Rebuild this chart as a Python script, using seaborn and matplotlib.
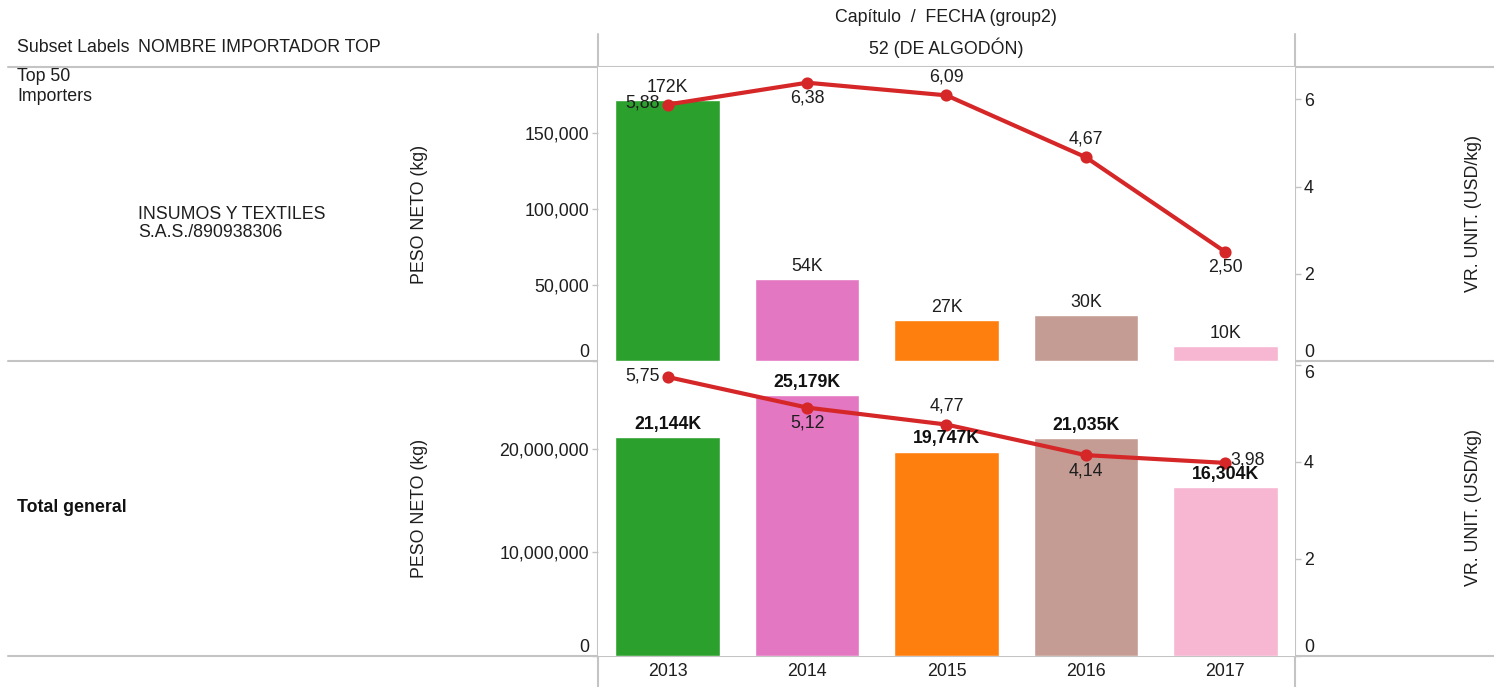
import matplotlib
matplotlib.use("Agg")
import matplotlib.pyplot as plt
from matplotlib.lines import Line2D
import seaborn as sns

# --- Datos ---
anios = ["2013", "2014", "2015", "2016", "2017"]
colores_anio = ["#2ca02c", "#e377c2", "#ff7f0e", "#c49c94", "#f7b6d2"]

# Fila 1: INSUMOS Y TEXTILES S.A.S./890938306
peso_top = [172000, 54000, 27000, 30000, 10000]
vr_unit_top = [5.88, 6.38, 6.09, 4.67, 2.50]

# Fila 2: Total general
peso_total = [21144000, 25179000, 19747000, 21035000, 16304000]
vr_unit_total = [5.75, 5.12, 4.77, 4.14, 3.98]

# posición de las etiquetas de la línea (como las pone Tableau)
pos_top = ["left", "below", "above", "above", "below"]
pos_total = ["left", "below", "above", "below", "right"]

sns.set_style("white")
plt.rcParams["font.family"] = ["Liberation Sans", "DejaVu Sans"]
FS = 12.8
TXT = "#1e1e1e"
GRIS = "#c4c4c4"
ROJO = "#d62728"

W, H = 1494, 687
fig = plt.figure(figsize=(W / 100, H / 100), dpi=100)


def fx(px):
    return px / W


def fy(py):
    return 1 - py / H


def hline(y, x0=8, x1=W):
    fig.add_artist(Line2D([fx(x0), fx(x1)], [fy(y), fy(y)], color=GRIS, lw=1.5,
                          transform=fig.transFigure, zorder=0))


def vline(x, y0=34, y1=H):
    fig.add_artist(Line2D([fx(x), fx(x)], [fy(y0), fy(y1)], color=GRIS, lw=1.5,
                          transform=fig.transFigure, zorder=0))


def etiqueta_linea(ax2, i, v, pos):
    txt = f"{v:.2f}".replace(".", ",")
    off = {"left": (-6, 1, "right", "center"),
           "right": (4, 2, "left", "center"),
           "above": (0, 7, "center", "bottom"),
           "below": (0, -5, "center", "top")}[pos]
    ax2.annotate(txt, (i, v), xytext=(off[0], off[1]), textcoords="offset points",
                 ha=off[2], va=off[3], fontsize=FS, color=TXT, zorder=10)


def panel(y0, y1, peso, vr, pos, ymax, ticks, vmax, negrita, ultimo):
    ax = fig.add_axes([fx(598), fy(y1), fx(1295) - fx(598), (y1 - y0) / H])
    sns.barplot(x=anios, y=peso, hue=anios, palette=colores_anio, width=0.75,
                saturation=1, legend=False, ax=ax)
    ax.set_ylim(0, ymax)
    ax.set_yticks(ticks, labels=[f"{t:,.0f}" for t in ticks])
    ax.set_ylabel("")

    ax2 = ax.twinx()
    sns.pointplot(x=anios, y=vr, color=ROJO, ax=ax2, markersize=6.5, linewidth=3)
    ax2.set_ylim(0, vmax)
    ax2.set_yticks([0, 2, 4, 6], labels=["0", "2", "4", "6"])
    ax2.set_ylabel("")
    ax.set_xlim(-0.5, 4.5)
    ax2.set_xlim(-0.5, 4.5)

    for a in (ax, ax2):
        for s in a.spines.values():
            s.set_visible(False)
    ax.tick_params(axis="y", length=4.5, width=1, color=GRIS, pad=2,
                   labelsize=FS, labelcolor=TXT)
    ax2.tick_params(axis="y", length=4, width=1, color=GRIS, pad=2.5,
                    labelsize=FS, labelcolor=TXT)
    ax2.tick_params(axis="x", length=0, labelbottom=False)
    ax.get_yticklabels()[0].set_va("bottom")
    ax2.get_yticklabels()[0].set_va("bottom")
    if vmax < 6.3:
        ax2.get_yticklabels()[-1].set_va("top")

    if ultimo:
        ax.tick_params(axis="x", which="major", length=0, pad=5,
                       labelsize=FS, labelcolor=TXT)
        ax.set_xticks([0.5, 1.5, 2.5, 3.5], minor=True)
        ax.tick_params(axis="x", which="minor", length=5, width=1, color=GRIS)
    else:
        ax.tick_params(axis="x", length=0, labelbottom=False)

    # etiquetas de las barras
    for i, v in enumerate(peso):
        txt = f"{v / 1000:,.0f}K"
        ax2.annotate(txt, (i, v), xycoords=ax.transData, xytext=(0, 3),
                     textcoords="offset points", ha="center", va="bottom",
                     fontsize=FS, color="#111111" if negrita else TXT,
                     fontweight="bold" if negrita else "normal", zorder=9)
    for i, v in enumerate(vr):
        etiqueta_linea(ax2, i, v, pos[i])
    return ax, ax2


panel(67, 361, peso_top, vr_unit_top, pos_top, 193500,
      [0, 50000, 100000, 150000], 6.74, False, False)
panel(361, 656, peso_total, vr_unit_total, pos_total, 28500000,
      [0, 10000000, 20000000], 6.08, True, True)

# --- Rejilla tipo Tableau ---
hline(67)
hline(361)
hline(656)
vline(598)
vline(1295)

# --- Encabezados y etiquetas de filas ---
fig.text(fx(946), fy(17), "Capítulo  /  FECHA (group2)", ha="center", va="center",
         fontsize=FS, color=TXT)
fig.text(fx(946), fy(48), "52 (DE ALGODÓN)", ha="center", va="center",
         fontsize=FS, color=TXT)
fig.text(fx(17), fy(48), "Subset Labels", ha="left", va="center", fontsize=FS, color=TXT)
fig.text(fx(138), fy(48), "NOMBRE IMPORTADOR TOP", ha="left", va="center",
         fontsize=FS, color=TXT)
fig.text(fx(17), fy(68), "Top 50\nImporters", ha="left", va="top", fontsize=FS,
         color=TXT, linespacing=1.25)
fig.text(fx(138), fy(206), "INSUMOS Y TEXTILES\nS.A.S./890938306", ha="left",
         va="top", fontsize=FS, color=TXT, linespacing=1.05)
fig.text(fx(17), fy(508), "Total general", ha="left", va="center", fontsize=FS,
         color="#111111", fontweight="bold")

for yc in (214, 508):
    fig.text(fx(420), fy(yc), "PESO NETO (kg)", rotation=90, ha="center",
             va="center", fontsize=FS, color=TXT)
    fig.text(fx(1473), fy(yc), "VR. UNIT. (USD/kg)", rotation=90, ha="center",
             va="center", fontsize=FS, color=TXT)

fig.savefig("out.png", dpi=100)
